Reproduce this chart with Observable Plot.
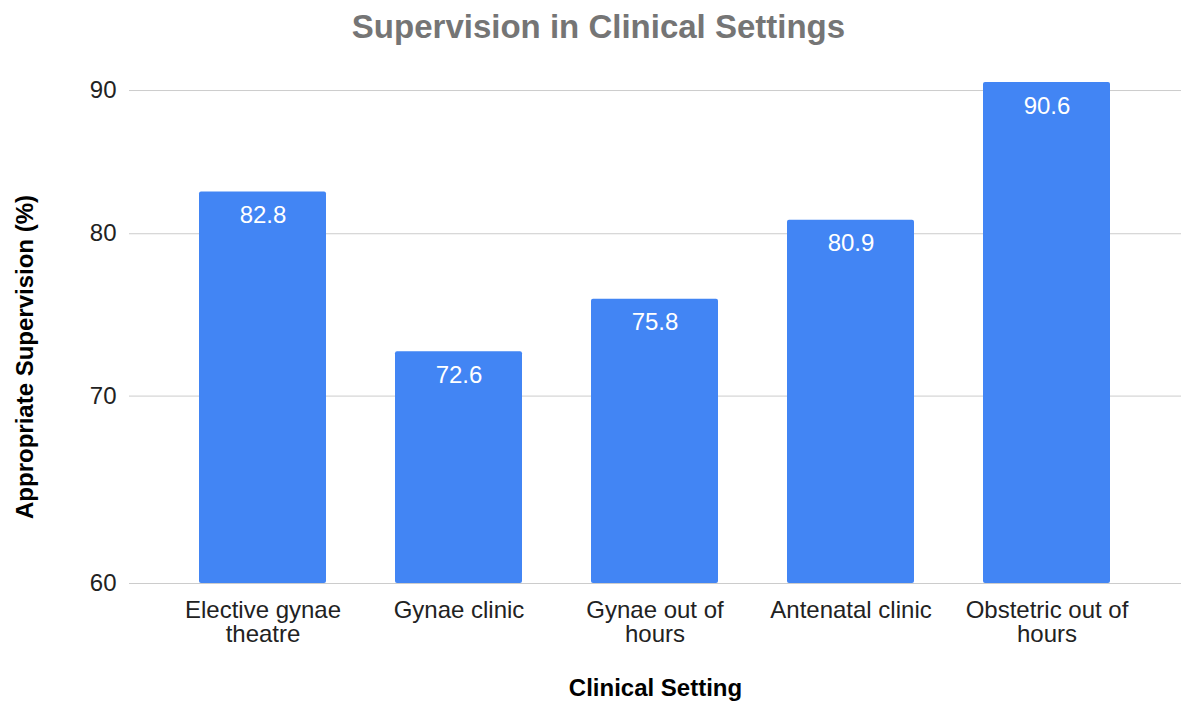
<!DOCTYPE html>
<html>
<head>
<meta charset="utf-8">
<script src="https://cdn.jsdelivr.net/npm/d3@7"></script>
<script src="https://cdn.jsdelivr.net/npm/@observablehq/plot@0.6"></script>
<style>
  body { margin: 0; background: #fff; }
  #wrap { position: relative; width: 1181px; }
  #title {
    width: 1181px; height: 60px; box-sizing: border-box;
    padding-top: 11px; padding-left: 16px;
    font: bold 33px "Liberation Sans", Arial, sans-serif;
    line-height: 32px; color: #757575; text-align: center;
  }
  #ytitle {
    position: absolute; left: 25px; top: 357px;
    transform: translate(-50%, -50%) rotate(-90deg);
    white-space: nowrap;
    font: bold 24px "Liberation Sans", Arial, sans-serif;
    line-height: 24px; color: #000;
  }
</style>
</head>
<body>
<div id="wrap">
<div id="title">Supervision in Clinical Settings</div>
<div id="chart"></div>
<div id="ytitle"></div>
</div>
<script>
const categories = ["Elective gynae theatre", "Gynae clinic", "Gynae out of hours", "Antenatal clinic", "Obstetric out of hours"];
const tickLabels = ["Elective gynae\ntheatre", "Gynae clinic", "Gynae out of\nhours", "Antenatal clinic", "Obstetric out of\nhours"];
const values = [82.8, 72.6, 75.8, 80.9, 90.6];
const yTicks = [60, 70, 80, 90];
const yTitle = "Appropriate Supervision (%)";
const xTitle = "Clinical Setting";

document.getElementById("ytitle").textContent = yTitle;

const data = categories.map((c, i) => ({category: c, value: values[i]}));
const labelOf = new Map(categories.map((c, i) => [c, tickLabels[i]]));
const base = yTicks[0];

const chart = Plot.plot({
  width: 1181,
  height: 648,
  marginTop: 16.6,
  marginBottom: 125,
  marginLeft: 129,
  marginRight: 0,
  style: {fontFamily: "'Liberation Sans', Arial, sans-serif", fontSize: "24px", color: "#222", background: "#fff"},
  x: {domain: categories, paddingInner: 0.35, paddingOuter: 0.355, label: null},
  y: {type: "log", domain: [60, 91], label: null},
  marks: [
    Plot.gridY(yTicks, {stroke: "#cccccc", strokeOpacity: 1, strokeWidth: 1}),
    Plot.barY(data, {x: "category", y1: () => base, y2: "value", fill: "#4285F4", rx: 2}),
    Plot.ruleY([base], {stroke: "#cccccc", strokeWidth: 1}),
    Plot.axisY(yTicks, {tickSize: 0, tickPadding: 13, fontSize: 24, label: null, tickFormat: d => String(d)}),
    Plot.axisX({tickSize: 0, tickPadding: 17, fontSize: 24, label: null, lineHeight: 1, tickFormat: d => labelOf.get(d)}),
    Plot.text(data, {x: "category", y: "value", text: d => d.value.toFixed(1), fill: "white", fontSize: 24, lineAnchor: "top", dy: 14}),
    Plot.text([xTitle], {text: d => d, frameAnchor: "bottom", dy: 112, fontSize: 24, fontWeight: "bold", fill: "#000"})
  ]
});
document.getElementById("chart").appendChild(chart);
</script>
</body>
</html>
